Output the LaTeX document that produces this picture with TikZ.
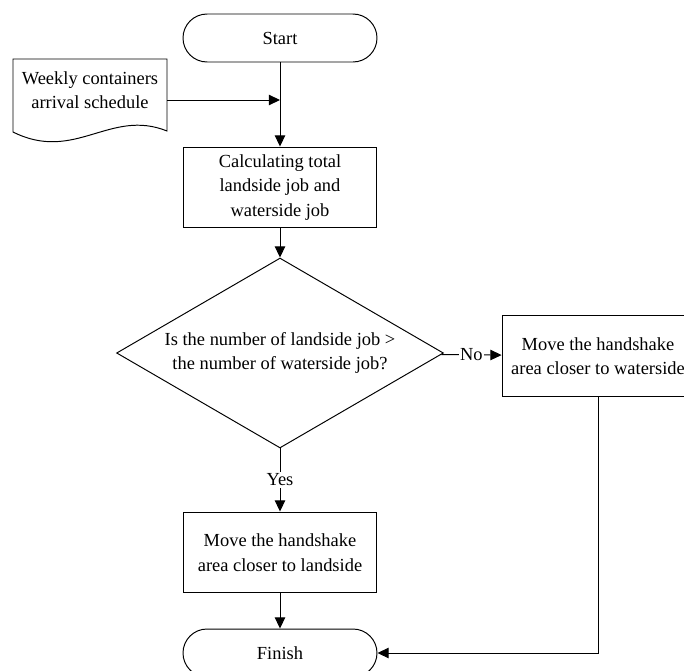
\documentclass[tikz,border=0pt]{standalone}
\usepackage{fontspec}
\setmainfont{Liberation Serif}
\usetikzlibrary{shapes.geometric,arrows.meta}

\begin{document}
\begin{tikzpicture}[x=0.667pt, y=-0.667pt, line width=0.65pt,
    font=\fontsize{12.3}{16.4}\selectfont,
    >={Triangle[length=7.5pt,width=7pt]},
    terminal/.style={draw, rectangle, rounded corners=16pt, minimum width=129.4pt, minimum height=32pt},
    process/.style={draw, rectangle, align=center, minimum width=129pt, minimum height=54pt},
    decision/.style={draw, diamond, aspect=1.72, align=center, inner sep=0pt,
      minimum width=218pt, minimum height=126.7pt},
    answer/.style={fill=white, inner sep=1pt}]
  \clip (0,0) rectangle (684,671);

  % Terminals and process boxes
  \node[terminal] (start) at (280,38) {Start};
  \node[process] (calc) at (280,187.5) {Calculating total\\landside job and\\waterside job};
  \node[decision] (check) at (280,353) {Is the number of landside job >\\the number of waterside job?};
  \node[process, minimum width=128pt] (water) at (598,356) {Move the handshake\\area closer to waterside};
  \node[process] (land) at (280,552.5) {Move the handshake\\area closer to landside};
  \node[terminal] (finish) at (280,653) {Finish};

  % Input document: weekly schedule
  \draw (13,59) -- (167,59) -- (167,131)
    .. controls (110,108) and (75,163) .. (13,132) -- cycle;
  \node[align=center] (sched) at (90,90) {Weekly containers\\arrival schedule};
  \coordinate (sched-out) at (167,100);
  \coordinate (merge) at (280,100);

  % Connectors
  \draw[->] (start) -- (calc);
  \draw[->] (sched-out) -- (merge);
  \draw[->] (calc) -- (check);
  \draw[->] (check) -- node[answer] {Yes} (land);
  \draw[->] (check) -- node[answer] {No} (water);
  \draw[->] (land) -- (finish);
  \draw[->] (water.south) |- (finish.east);
\end{tikzpicture}
\end{document}
